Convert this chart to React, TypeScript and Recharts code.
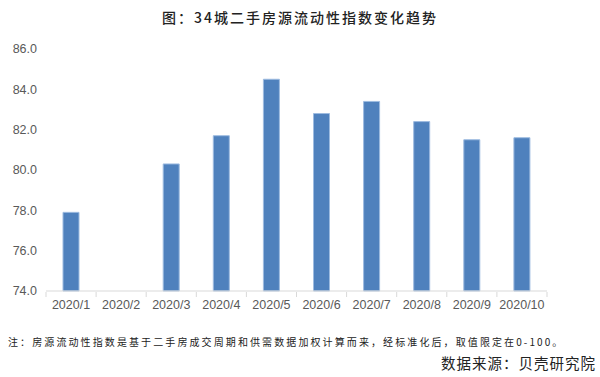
import React from "react";
import { BarChart, Bar, XAxis, YAxis } from "recharts";

const months = ["2020/1", "2020/2", "2020/3", "2020/4", "2020/5", "2020/6", "2020/7", "2020/8", "2020/9", "2020/10"];
const liquidity: (number | null)[] = [77.9, null, 80.3, 81.7, 84.5, 82.8, 83.4, 82.4, 81.5, 81.6];
const yTicks = [74, 76, 78, 80, 82, 84, 86];

const TITLE = "图：34城二手房源流动性指数变化趋势";
const NOTE = "注：房源流动性指数是基于二手房成交周期和供需数据加权计算而来，经标准化后，取值限定在0-100。";
const SOURCE = "数据来源：贝壳研究院";

const data = months.map((m, i) => ({ month: m, value: liquidity[i] }));

const LABEL_COLOR = "#595959";
const AXIS_COLOR = "#d9d9d9";
const BAND = 501 / months.length;

function MonthTick(props: any) {
  const { x, y, payload, index } = props;
  const half = BAND / 2;
  return (
    <g>
      <line x1={x - half} y1={y - 1} x2={x - half} y2={y + 4} stroke={AXIS_COLOR} />
      {index === months.length - 1 && (
        <line x1={x + half} y1={y - 1} x2={x + half} y2={y + 4} stroke={AXIS_COLOR} />
      )}
      <text x={x} y={y + 16} textAnchor="middle" fill={LABEL_COLOR} fontSize={12.5} fontFamily="Liberation Sans, Arial, sans-serif">
        {payload.value}
      </text>
    </g>
  );
}

export default function App() {
  return (
    <div style={{ position: "absolute", left: 0, top: 0, width: 600, height: 377, background: "#fff", overflow: "hidden" }}>
      <div
        style={{
          position: "absolute",
          top: 7,
          width: 600,
          textAlign: "center",
          fontSize: 14,
          fontWeight: 500,
          letterSpacing: 2,
          color: "#222",
          fontFamily: "'Noto Sans CJK SC', sans-serif",
        }}
      >
        {TITLE}
      </div>
      <div style={{ position: "absolute", top: 0, left: 0 }}>
        <BarChart width={600} height={320} data={data} margin={{ top: 49, right: 53, bottom: 0, left: 0 }}>
          <YAxis
            width={46}
            domain={[74, 86]}
            ticks={yTicks}
            axisLine={false}
            tickLine={false}
            tickSize={0}
            tickMargin={9}
            tickFormatter={(v: number) => v.toFixed(1)}
            tick={{ fill: LABEL_COLOR, fontSize: 12.5, fontFamily: "Liberation Sans, Arial, sans-serif" }}
          />
          <XAxis
            dataKey="month"
            height={29}
            interval={0}
            axisLine={{ stroke: AXIS_COLOR }}
            tickLine={false}
            tickSize={0}
            tick={<MonthTick />}
          />
          <Bar dataKey="value" fill="#4f81bd" stroke="#9dbbe0" strokeWidth={1} barSize={16} isAnimationActive={false} />
        </BarChart>
      </div>
      <div
        style={{
          position: "absolute",
          top: 334,
          left: 8,
          fontSize: 10,
          letterSpacing: 2.1,
          color: "#222",
          whiteSpace: "nowrap",
          fontFamily: "'Noto Sans CJK SC', sans-serif",
        }}
      >
        {NOTE}
      </div>
      <div
        style={{
          position: "absolute",
          top: 352,
          right: 4,
          fontSize: 14.5,
          letterSpacing: 1,
          color: "#222",
          whiteSpace: "nowrap",
          fontFamily: "'Noto Sans CJK SC', sans-serif",
        }}
      >
        {SOURCE}
      </div>
    </div>
  );
}
